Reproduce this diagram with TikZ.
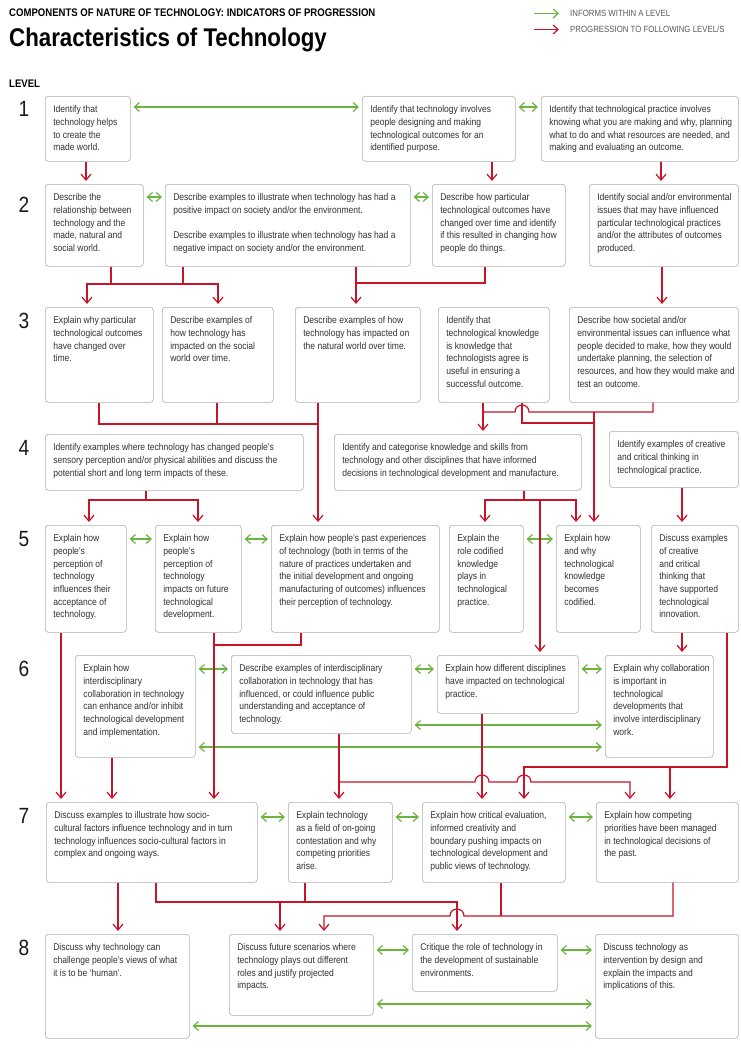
\documentclass[tikz,border=0pt]{standalone}
\usepackage{fontspec}
\setmainfont{Liberation Sans}[FakeStretch=0.87]
\usetikzlibrary{arrows.meta}

\definecolor{progred}{RGB}{200,20,40}
\definecolor{informgreen}{RGB}{109,179,63}
\definecolor{boxline}{RGB}{175,175,175}
\definecolor{boxtext}{RGB}{50,50,50}
\definecolor{keytext}{RGB}{90,90,90}

% box text: outer width, outer height, lines
\newcommand{\cardtext}[3]{\parbox[t][\dimexpr#2pt-15pt\relax][t]{\dimexpr#1pt-16pt\relax}{\begin{tabular}[t]{@{}l@{}}#3\end{tabular}}}

\begin{document}
\begin{tikzpicture}[x=1pt,y=-1pt,
    card/.style={draw=boxline,line width=0.6pt,rounded corners=3pt,anchor=north west,
      inner xsep=8pt,inner ysep=7.5pt,text=boxtext,font=\fontsize{9.8}{12.7}\selectfont},
    prog/.style={draw=progred,line width=1.2pt,-{Straight Barb[length=6pt,width=10pt]},shorten >=3pt},
    bus/.style={draw=progred,line width=1.2pt},
    inform/.style={draw=informgreen,line width=1.2pt,
      {Straight Barb[length=5pt,width=9pt]}-{Straight Barb[length=5pt,width=9pt]},
      shorten >=3pt,shorten <=3pt},
    lvl/.style={anchor=base west,font=\fontsize{22}{22}\selectfont,text=black!90}]
    \fill[white] (0,0) rectangle (740,1049);
    \useasboundingbox (0,0) rectangle (740,1049);

    % headings and key
    \node[anchor=base west,inner sep=0pt,font=\fontsize{11}{12}\selectfont\bfseries] (heading) at (9,17) {COMPONENTS OF NATURE OF TECHNOLOGY: INDICATORS OF PROGRESSION};
    \node[anchor=base west,inner sep=0pt,font=\fontsize{25.6}{28}\selectfont\bfseries] (title) at (9,47) {Characteristics of Technology};
    \node[anchor=base west,inner sep=0pt,font=\fontsize{11}{12}\selectfont\bfseries] (levelhead) at (9,87) {LEVEL};
    \node[anchor=base west,inner sep=0pt,text=keytext,font=\fontsize{9}{10}\selectfont] (key1) at (570,17) {INFORMS WITHIN A LEVEL};
    \node[anchor=base west,inner sep=0pt,text=keytext,font=\fontsize{9}{10}\selectfont] (key2) at (570,33) {PROGRESSION TO FOLLOWING LEVEL/S};
    \draw[informgreen,line width=1.2pt,-{Straight Barb[length=5pt,width=9pt]}] ([xshift=-36pt,yshift=3.5pt]key1.base west) -- ([xshift=-11pt,yshift=3.5pt]key1.base west);
    \draw[progred,line width=1.2pt,-{Straight Barb[length=5pt,width=9pt]}] ([xshift=-36pt,yshift=3.5pt]key2.base west) -- ([xshift=-11pt,yshift=3.5pt]key2.base west);

    % level numbers
    \node[lvl] (l1) at (15,116) {1};
    \node[lvl] (l2) at (15,212) {2};
    \node[lvl] (l3) at (15,328) {3};
    \node[lvl] (l4) at (15,455) {4};
    \node[lvl] (l5) at (15,546) {5};
    \node[lvl] (l6) at (15,676) {6};
    \node[lvl] (l7) at (15,823) {7};
    \node[lvl] (l8) at (15,955) {8};

    % level 1
    \node[card] (b11) at (45,96) {\cardtext{85}{65}{Identify that\\technology helps\\to create the\\made world.}};
    \node[card] (b12) at (362,96) {\cardtext{153}{65}{Identify that technology involves\\people designing and making\\technological outcomes for an\\identified purpose.}};
    \node[card] (b13) at (541,96) {\cardtext{197}{65}{Identify that technological practice involves\\knowing what you are making and why, planning\\what to do and what resources are needed, and\\making and evaluating an outcome.}};

    % level 2
    \node[card] (b21) at (45,184) {\cardtext{98}{82}{Describe the\\relationship between\\technology and the\\made, natural and\\social world.}};
    \node[card] (b22) at (165,184) {\cardtext{245}{82}{Describe examples to illustrate when technology has had a\\positive impact on society and/or the environment.\\[12.7pt]Describe examples to illustrate when technology has had a\\negative impact on society and/or the environment.}};
    \node[card] (b23) at (432,184) {\cardtext{133}{82}{Describe how particular\\technological outcomes have\\changed over time and identify\\if this resulted in changing how\\people do things.}};
    \node[card] (b24) at (589,184) {\cardtext{149}{82}{Identify social and/or environmental\\issues that may have influenced\\particular technological practices\\and/or the attributes of outcomes\\produced.}};

    % level 3
    \node[card] (b31) at (45,307) {\cardtext{108}{95}{Explain why particular\\technological outcomes\\have changed over\\time.}};
    \node[card] (b32) at (162,307) {\cardtext{111}{95}{Describe examples of\\how technology has\\impacted on the social\\world over time.}};
    \node[card] (b33) at (295,307) {\cardtext{125}{95}{Describe examples of how\\technology has impacted on\\the natural world over time.}};
    \node[card] (b34) at (438,307) {\cardtext{111}{95}{Identify that\\technological knowledge\\is knowledge that\\technologists agree is\\useful in ensuring a\\successful outcome.}};
    \node[card] (b35) at (569,307) {\cardtext{169}{95}{Describe how societal and/or\\environmental issues can influence what\\people decided to make, how they would\\undertake planning, the selection of\\resources, and how they would make and\\test an outcome.}};

    % level 4
    \node[card] (b41) at (45,434) {\cardtext{258}{56}{Identify examples where technology has changed people’s\\sensory perception and/or physical abilities and discuss the\\potential short and long term impacts of these.}};
    \node[card] (b42) at (334,434) {\cardtext{247}{56}{Identify and categorise knowledge and skills from\\technology and other disciplines that have informed\\decisions in technological development and manufacture.}};
    \node[card] (b43) at (609,431) {\cardtext{129}{56}{Identify examples of creative\\and critical thinking in\\technological practice.}};

    % level 5
    \node[card] (b51) at (45,525) {\cardtext{81}{107}{Explain how\\people’s\\perception of\\technology\\influences their\\acceptance of\\technology.}};
    \node[card] (b52) at (155,525) {\cardtext{86}{107}{Explain how\\people’s\\perception of\\technology\\impacts on future\\technological\\development.}};
    \node[card] (b53) at (271,525) {\cardtext{168}{107}{Explain how people’s past experiences\\of technology (both in terms of the\\nature of practices undertaken and\\the initial development and ongoing\\manufacturing of outcomes) influences\\their perception of technology.}};
    \node[card] (b54) at (449,525) {\cardtext{74}{107}{Explain the\\role codified\\knowledge\\plays in\\technological\\practice.}};
    \node[card] (b55) at (556,525) {\cardtext{84}{107}{Explain how\\and why\\technological\\knowledge\\becomes\\codified.}};
    \node[card] (b56) at (651,525) {\cardtext{87}{107}{Discuss examples\\of creative\\and critical\\thinking that\\have supported\\technological\\innovation.}};

    % level 6
    \node[card] (b61) at (75,655) {\cardtext{120}{102}{Explain how\\interdisciplinary\\collaboration in technology\\can enhance and/or inhibit\\technological development\\and implementation.}};
    \node[card] (b62) at (231,655) {\cardtext{180}{78}{Describe examples of interdisciplinary\\collaboration in technology that has\\influenced, or could influence public\\understanding and acceptance of\\technology.}};
    \node[card] (b63) at (437,655) {\cardtext{141}{58}{Explain how different disciplines\\have impacted on technological\\practice.}};
    \node[card] (b64) at (605,655) {\cardtext{108}{102}{Explain why collaboration\\is important in\\technological\\developments that\\involve interdisciplinary\\work.}};

    % level 7
    \node[card] (b71) at (46,802) {\cardtext{211}{80}{Discuss examples to illustrate how socio-\\cultural factors influence technology and in turn\\technology influences socio-cultural factors in\\complex and ongoing ways.}};
    \node[card] (b72) at (288,802) {\cardtext{104}{80}{Explain technology\\as a field of on-going\\contestation and why\\competing priorities\\arise.}};
    \node[card] (b73) at (422,802) {\cardtext{143}{80}{Explain how critical evaluation,\\informed creativity and\\boundary pushing impacts on\\technological development and\\public views of technology.}};
    \node[card] (b74) at (596,802) {\cardtext{142}{80}{Explain how competing\\priorities have been managed\\in technological decisions of\\the past.}};

    % level 8
    \node[card] (b81) at (45,934) {\cardtext{144}{104}{Discuss why technology can\\challenge people’s views of what\\it is to be ‘human’.}};
    \node[card] (b82) at (229,934) {\cardtext{144}{81}{Discuss future scenarios where\\technology plays out different\\roles and justify projected\\impacts.}};
    \node[card] (b83) at (412,934) {\cardtext{145}{57}{Critique the role of technology in\\the development of sustainable\\environments.}};
    \node[card] (b84) at (595,934) {\cardtext{143}{104}{Discuss technology as\\intervention by design and\\explain the impacts and\\implications of this.}};

    % informs within a level
    \draw[inform] ([yshift=-11pt]b11.north east) -- ([yshift=-11pt]b12.north west);
    \draw[inform] ([yshift=-11pt]b12.north east) -- ([yshift=-11pt]b13.north west);
    \draw[inform] ([yshift=-13pt]b21.north east) -- ([yshift=-13pt]b22.north west);
    \draw[inform] ([yshift=-13pt]b22.north east) -- ([yshift=-13pt]b23.north west);
    \draw[inform] ([yshift=-14pt]b51.north east) -- ([yshift=-14pt]b52.north west);
    \draw[inform] ([yshift=-14pt]b52.north east) -- ([yshift=-14pt]b53.north west);
    \draw[inform] ([yshift=-14pt]b54.north east) -- ([yshift=-14pt]b55.north west);
    \draw[inform] ([yshift=-14pt]b61.north east) -- ([yshift=-14pt]b62.north west);
    \draw[inform] ([yshift=-14pt]b62.north east) -- ([yshift=-14pt]b63.north west);
    \draw[inform] ([yshift=-14pt]b63.north east) -- ([yshift=-14pt]b64.north west);
    \draw[inform] ([yshift=-70pt]b62.north east) -- ([yshift=-70pt]b64.north west);
    \draw[inform] ([yshift=-92pt]b61.north east) -- ([yshift=-92pt]b64.north west);
    \draw[inform] ([yshift=-15pt]b71.north east) -- ([yshift=-15pt]b72.north west);
    \draw[inform] ([yshift=-15pt]b72.north east) -- ([yshift=-15pt]b73.north west);
    \draw[inform] ([yshift=-15pt]b73.north east) -- ([yshift=-15pt]b74.north west);
    \draw[inform] ([yshift=-16pt]b82.north east) -- ([yshift=-16pt]b83.north west);
    \draw[inform] ([yshift=-16pt]b83.north east) -- ([yshift=-16pt]b84.north west);
    \draw[inform] ([yshift=-70pt]b82.north east) -- ([yshift=-70pt]b84.north west);
    \draw[inform] ([yshift=-92pt]b81.north east) -- ([yshift=-92pt]b84.north west);

    % level 1 to 2
    \draw[prog] (b11.south -| 86,0) -- (b21.north -| 86,0);
    \draw[prog] (b12.south -| 492,0) -- (b23.north -| 492,0);
    \draw[prog] (b13.south -| 661,0) -- (b24.north -| 661,0);

    % level 2 to 3
    \draw[prog] (b21.south -| 111,0) -- (111,284) -| (b31.north -| 87,0);
    \draw[prog] (b22.south -| 183,0) -- (183,284) -| (b32.north -| 218,0);
    \draw[bus] (111,284) -- (183,284);
    \draw[bus] (b22.south -| 356,0) -- (356,283);
    \draw[prog] (b23.south -| 485,0) -- (485,283) -| (b33.north -| 356,0);
    \draw[prog] (b24.south -| 662,0) -- (b35.north -| 662,0);

    % level 3 to 4 and 5
    \draw[bus] (b31.south -| 99,0) |- (318,424);
    \draw[bus] (b32.south -| 217,0) -- (217,424);
    \draw[prog] (b33.south -| 318,0) -- (b53.north -| 318,0);
    \draw[prog] (b34.south -| 483,0) -- (b42.north -| 483,0);
    \draw[bus] (b35.south -| 653,0) -- (653,412) -- (529,412) .. controls (529,402.7) and (515,402.7) .. (515,412) -- (483,412);
    \draw[bus] (b34.south -| 522,0) -- (522,423) -- (594,423);
    \draw[prog] (594,412) -- (b55.north -| 594,0);

    % level 4 to 5 and 6
    \draw[prog] (b41.south -| 146,0) -- (146,500) -| (b51.north -| 89,0);
    \draw[prog] (146,500) -| (b52.north -| 198,0);
    \draw[prog] (b42.south -| 524,0) -- (524,500) -| (b54.north -| 485,0);
    \draw[prog] (524,500) -| (b55.north -| 576,0);
    \draw[prog] (540,500) -- (b63.north -| 540,0);
    \draw[prog] (b43.south -| 682,0) -- (b56.north -| 682,0);

    % level 5 to 6 and 7
    \draw[prog] (b51.south -| 61,0) -- (b71.north -| 61,0);
    \draw[bus] (b52.south -| 214,0) -- (214,645);
    \draw[prog] (b53.south -| 301,0) -- (301,645) -| (b71.north -| 214,0);
    \draw[prog] (b56.south -| 682,0) -- (b64.north -| 682,0);
    \draw[prog] (b56.south -| 727,0) -- (727,767) -| (b73.north -| 524,0);
    \draw[prog] (670,767) -- (b74.north -| 670,0);

    % level 6 to 7
    \draw[prog] (b61.south -| 112,0) -- (b71.north -| 112,0);
    \draw[prog] (b62.south -| 339,0) -- (b72.north -| 339,0);
    \draw[prog] (339,782) -- (475,782) .. controls (475,772.7) and (489,772.7) .. (489,782) -- (517,782) .. controls (517,772.7) and (531,772.7) .. (531,782) -| (b74.north -| 630,0);
    \draw[prog] (b63.south -| 482,0) -- (b73.north -| 482,0);

    % level 7 to 8
    \draw[prog] (b71.south -| 118,0) -- (b81.north -| 118,0);
    \draw[prog] (b71.south -| 156,0) -- (156,902) -| (b83.north -| 457,0);
    \draw[bus] (b72.south -| 305,0) -- (305,902);
    \draw[prog] (280,902) -- (b82.north -| 280,0);
    \draw[bus] (b73.south -| 501,0) -- (501,916);
    \draw[prog] (b74.south -| 673,0) -- (673,916) -- (464,916) .. controls (464,906.7) and (450,906.7) .. (450,916) -| (b82.north -| 324,0);
\end{tikzpicture}
\end{document}
